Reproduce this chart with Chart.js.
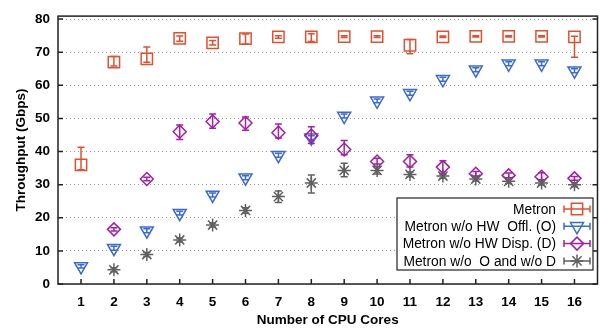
<!DOCTYPE html>
<html>
<head>
<meta charset="utf-8">
<script src="https://cdn.jsdelivr.net/npm/chart.js@4.4.1/dist/chart.umd.min.js"></script>
<style>
  html, body { margin: 0; padding: 0; background: #fff; }
  #wrap { width: 607px; height: 332px; }
</style>
</head>
<body>
<div id="wrap"><canvas id="cores"></canvas></div>
<script>
// data
var cores = [1, 2, 3, 4, 5, 6, 7, 8, 9, 10, 11, 12, 13, 14, 15, 16];
var yTicks = [0, 10, 20, 30, 40, 50, 60, 70, 80];
var labels = ['Metron', 'Metron w/o HW  Offl. (O)', 'Metron w/o HW Disp. (D)', 'Metron w/o  O and w/o D'];

var metron    = [36, 67, 68, 74.2, 72.8, 74.1, 74.6, 74.6, 74.7, 74.7, 72.1, 74.6, 74.8, 74.8, 74.8, 74.6];
var metronLo  = [34.5, 65.8, 67, 73.3, 72.2, 72.5, 74.2, 73.2, 74.4, 74.4, 69.5, 74.4, 74.6, 74.6, 74.6, 68.5];
var metronHi  = [41.3, 68.7, 71.6, 74.9, 73.5, 75.5, 75, 75.6, 75, 75, 73.8, 74.9, 75, 75, 75, 74.8];

var noOffl    = [5.3, 10.8, 16.1, 21.4, 26.9, 32.1, 38.9, 44.2, 50.7, 55.3, 57.6, 61.8, 64.7, 66.5, 66.5, 64.4];
var noOfflLo  = [4.8, 10.2, 15.5, 20.8, 26.3, 31.5, 38.3, 43.6, 50.1, 54.7, 57, 61.2, 64.1, 65.9, 65.9, 63.8];
var noOfflHi  = [5.8, 11.4, 16.7, 22, 27.5, 32.7, 39.5, 44.8, 51.3, 55.9, 58.2, 62.4, 65.3, 67.1, 67.1, 65];

var noDisp    = [null, 16.5, 31.7, 46, 49.1, 48.6, 45.7, 44.8, 40.6, 37, 37, 35.3, 33.3, 32.8, 32.4, 31.9];
var noDispLo  = [null, 16, 31.2, 43.6, 47, 46.4, 44.1, 42.4, 39, 36.2, 35.3, 33.1, 32.6, 32.1, 31.5, 31.3];
var noDispHi  = [null, 17, 32.2, 48, 51.3, 50.4, 48.3, 47.5, 43.3, 38, 39, 37.2, 34, 33.5, 33.6, 32.5];

var noBoth    = [null, 4.3, 8.9, 13.3, 17.8, 22.2, 26.4, 30.5, 34.3, 34.3, 33.1, 32.6, 31.7, 31, 30.5, 30];
var noBothLo  = [null, 3.7, 8.3, 12.7, 17.2, 21.4, 24.6, 27.5, 32.4, 33.2, 32.4, 31.9, 31.1, 30.4, 29.9, 29.4];
var noBothHi  = [null, 4.9, 9.5, 13.9, 18.4, 23, 28.1, 32.9, 36.5, 35.4, 33.8, 33.3, 32.3, 31.6, 31.1, 30.6];

function pts(vals, lo, hi) {
	return cores.map(function (c, i) {
		return vals[i] == null ? null : { x: c, y: vals[i], lo: lo[i], hi: hi[i] };
	}).filter(function (p) { return p; });
}

var font = 'Liberation Sans, Arial, Helvetica, sans-serif';

/* error bars, frame, inward ticks, legend */
var gnuplotLook = {
	id: 'gnuplotLook',
	afterDatasetsDraw: function (chart) {
		var ctx = chart.ctx, ys = chart.scales.y, xs = chart.scales.x;
		chart.data.datasets.forEach(function (ds) {
			ctx.save();
			ctx.strokeStyle = ds.borderColor;
			ctx.lineWidth = 1.5;
			ds.data.forEach(function (p) {
				var x = xs.getPixelForValue(p.x);
				var y1 = ys.getPixelForValue(p.lo), y2 = ys.getPixelForValue(p.hi);
				ctx.beginPath();
				ctx.moveTo(x, y1); ctx.lineTo(x, y2);
				ctx.moveTo(x - 3.5, y1); ctx.lineTo(x + 3.5, y1);
				ctx.moveTo(x - 3.5, y2); ctx.lineTo(x + 3.5, y2);
				ctx.stroke();
			});
			ctx.restore();
		});
	},
	afterDraw: function (chart) {
		var ctx = chart.ctx, a = chart.chartArea, ys = chart.scales.y, xs = chart.scales.x;
		ctx.save();
		ctx.strokeStyle = '#222';
		ctx.lineWidth = 1.5;
		ctx.beginPath();
		yTicks.forEach(function (v) {
			var y = ys.getPixelForValue(v);
			ctx.moveTo(a.left, y); ctx.lineTo(a.left + 5, y);
			ctx.moveTo(a.right, y); ctx.lineTo(a.right - 5, y);
		});
		cores.forEach(function (c) {
			var x = xs.getPixelForValue(c);
			ctx.moveTo(x, a.bottom); ctx.lineTo(x, a.bottom - 5);
		});
		ctx.stroke();
		ctx.strokeRect(a.left, a.top, a.right - a.left, a.bottom - a.top);

		// legend
		var bx = 397, by = 198, bw = 196, bh = 72;
		ctx.fillStyle = '#fff';
		ctx.fillRect(bx, by, bw, bh);
		ctx.lineWidth = 1.2;
		ctx.strokeStyle = '#222';
		ctx.strokeRect(bx, by, bw, bh);
		ctx.font = '13.8px ' + font;
		ctx.textAlign = 'right';
		ctx.textBaseline = 'middle';
		chart.data.datasets.forEach(function (ds, i) {
			var y = 209 + i * 17.3;
			ctx.fillStyle = '#000';
			ctx.fillText(labels[i], 556, y + 1);
			ctx.strokeStyle = ds.borderColor;
			ctx.fillStyle = 'rgba(0,0,0,0)';
			ctx.lineWidth = 1.5;
			ctx.beginPath();
			ctx.moveTo(564, y); ctx.lineTo(590, y);
			ctx.moveTo(564, y - 3.5); ctx.lineTo(564, y + 3.5);
			ctx.moveTo(590, y - 3.5); ctx.lineTo(590, y + 3.5);
			ctx.stroke();
			Chart.helpers.drawPoint(ctx, {
				pointStyle: ds.pointStyle, radius: ds.pointRadius,
				rotation: ds.rotation || 0, borderWidth: 1.5
			}, 577, y);
		});
		ctx.restore();
	}
};

function series(i, vals, lo, hi, color, style, radius, rot) {
	return {
		label: labels[i],
		data: pts(vals, lo, hi),
		showLine: false,
		borderColor: color,
		backgroundColor: 'transparent',
		pointStyle: style,
		pointRadius: radius,
		pointHoverRadius: radius,
		pointBorderWidth: 1.5,
		pointRotation: rot || 0,
		rotation: rot || 0,
		order: 4 - i
	};
}

var tickFont = { family: font, size: 13.5, weight: 'bold' };

var ctx = document.getElementById('cores').getContext('2d');
var myChart = new Chart(ctx, {
	type: 'scatter',
	data: {
		datasets: [
			series(0, metron, metronLo, metronHi, '#e4502f', 'rect', 8),
			series(1, noOffl, noOfflLo, noOfflHi, '#3a6ad8', 'triangle', 7.5, 180),
			series(2, noDisp, noDispLo, noDispHi, '#a61fa6', 'rectRot', 6.5),
			series(3, noBoth, noBothLo, noBothHi, '#606060', 'star', 6.5)
		]
	},
	options: {
		responsive: true,
		maintainAspectRatio: false,
		animation: false,
		layout: { padding: { top: 6, right: 5, left: 0, bottom: 0 } },
		plugins: {
			legend: { display: false },
			tooltip: { enabled: false }
		},
		scales: {
			x: {
				type: 'linear',
				min: 0.3,
				max: 16.7,
				afterBuildTicks: function (s) { s.ticks = cores.map(function (v) { return { value: v }; }); },
				afterFit: function (s) { s.height = 48; },
				grid: { display: false, drawTicks: false },
				border: { display: false },
				ticks: {
					autoSkip: false, maxRotation: 0, padding: 10, color: '#000',
					font: tickFont
				},
				title: {
					display: true, text: 'Number of CPU Cores', color: '#000',
					font: tickFont,
					padding: { top: 0, bottom: 4 }
				}
			},
			y: {
				min: 0,
				max: 80.9,
				afterBuildTicks: function (s) { s.ticks = yTicks.map(function (v) { return { value: v }; }); },
				afterFit: function (s) { s.width = 58; },
				grid: { color: '#999', lineWidth: 1, drawTicks: false },
				border: { display: false, dash: [1, 3] },
				ticks: {
					padding: 8, color: '#000',
					font: tickFont
				},
				title: {
					display: true, text: 'Throughput (Gbps)', color: '#000',
					font: tickFont,
					padding: { top: 13, bottom: 0 }
				}
			}
		}
	},
	plugins: [gnuplotLook]
});
</script>
</body>
</html>
